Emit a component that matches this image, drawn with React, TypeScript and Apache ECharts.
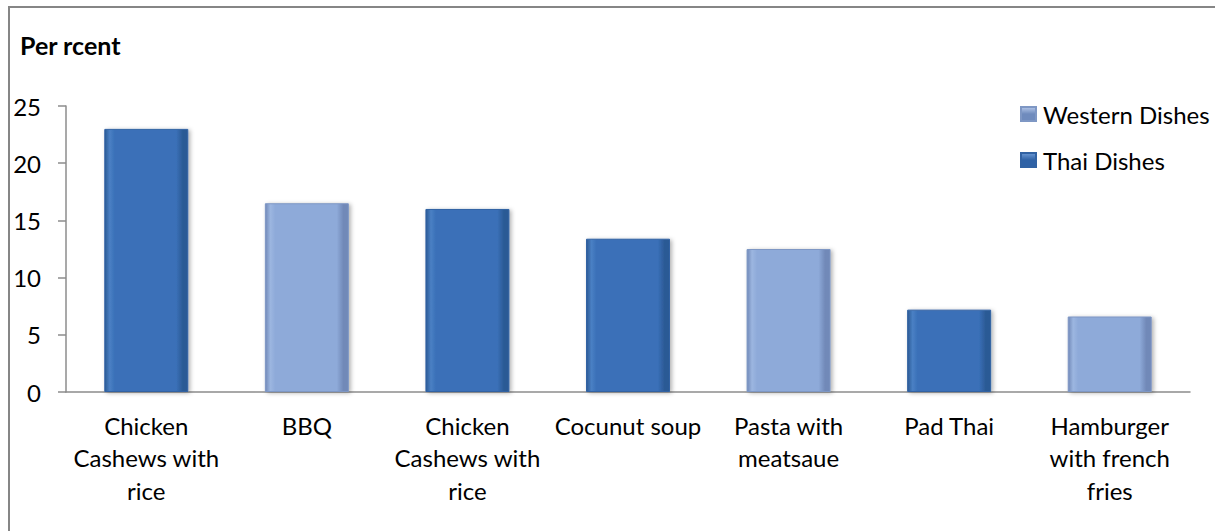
import React, { useEffect, useRef } from "react";
import * as echarts from "echarts";

const categories = [
  "Chicken Cashews with rice",
  "BBQ",
  "Chicken Cashews with rice",
  "Cocunut soup",
  "Pasta with meatsaue",
  "Pad Thai",
  "Hamburger with french fries",
];
const categoryLabels = [
  "Chicken\nCashews with\nrice",
  "BBQ",
  "Chicken\nCashews with\nrice",
  "Cocunut soup",
  "Pasta with\nmeatsaue",
  "Pad Thai",
  "Hamburger\nwith french\nfries",
];
const westernDishes: (number | string)[] = ["-", 16.5, "-", "-", 12.5, "-", 6.6];
const thaiDishes: (number | string)[] = [23, "-", 16, 13.4, "-", 7.2, "-"];
const yTicks = [0, 5, 10, 15, 20, 25];

const FONT = "Lato, 'Noto Sans', sans-serif";

function barGradient(edge: string, mid: string, light: string) {
  return new echarts.graphic.LinearGradient(0, 0, 1, 0, [
    { offset: 0, color: edge },
    { offset: 0.06, color: light },
    { offset: 0.12, color: mid },
    { offset: 0.86, color: mid },
    { offset: 0.94, color: edge },
    { offset: 1, color: edge },
  ]);
}

function legendGradient(dark: string, light: string) {
  return new echarts.graphic.LinearGradient(0, 0, 0, 1, [
    { offset: 0, color: light },
    { offset: 0.5, color: dark },
    { offset: 1, color: dark },
  ]);
}

export default function App() {
  const ref = useRef<HTMLDivElement>(null);
  useEffect(() => {
    if (!ref.current) return;
    const chart = echarts.init(ref.current, undefined, { renderer: "svg" });
    const westernColor = barGradient("#7189b8", "#8eaad9", "#9cb6e0");
    const thaiColor = barGradient("#2b5a95", "#3a70b8", "#4a80c4");
    chart.setOption({
      animation: false,
      backgroundColor: "#ffffff",
      textStyle: { fontFamily: FONT },
      graphic: [
        {
          type: "rect",
          shape: { x: 9, y: 7, width: 1230, height: 560 },
          style: { fill: "none", stroke: "#868686", lineWidth: 2 },
          silent: true,
        },
      ],
      title: {
        text: "Per rcent",
        left: 15,
        top: 27,
        textStyle: { fontFamily: FONT, fontWeight: "bold", fontSize: 25, color: "#000" },
      },
      legend: {
        orient: "vertical",
        left: 1015,
        top: 97,
        itemWidth: 15,
        itemHeight: 14,
        itemGap: 22,
        icon: "rect",
        textStyle: { fontFamily: FONT, fontSize: 24, color: "#000", padding: [0, 0, 0, 2] },
        data: [
          { name: "Western Dishes", itemStyle: { color: legendGradient("#6f8bbd", "#b5c8ea") } },
          { name: "Thai Dishes", itemStyle: { color: legendGradient("#2f62a6", "#6d9ad6") } },
        ],
      },
      grid: { left: 66, right: 25, top: 106, bottom: 139, containLabel: false },
      xAxis: {
        type: "category",
        data: categories,
        axisLine: { show: true, lineStyle: { color: "#8c8c8c", width: 1.5 } },
        axisTick: { show: false },
        axisLabel: {
          interval: 0,
          margin: 17,
          color: "#000",
          fontFamily: FONT,
          fontSize: 24,
          lineHeight: 32.5,
          formatter: (_v: string, i: number) => categoryLabels[i],
        },
      },
      yAxis: {
        type: "value",
        min: yTicks[0],
        max: yTicks[yTicks.length - 1],
        interval: 5,
        splitLine: { show: false },
        axisLine: { show: true, lineStyle: { color: "#8c8c8c", width: 1.5 } },
        axisTick: { show: true, length: 8, lineStyle: { color: "#8c8c8c", width: 1.5 } },
        axisLabel: { margin: 25, color: "#000", fontFamily: FONT, fontSize: 24 },
      },
      series: [
        {
          name: "Western Dishes",
          type: "bar",
          stack: "all",
          barWidth: 84,
          data: westernDishes,
          itemStyle: {
            color: westernColor,
            borderColor: "#7e97c4",
            borderWidth: 1,
            shadowColor: "rgba(0,0,0,0.3)",
            shadowBlur: 4,
            shadowOffsetX: 2,
            shadowOffsetY: 1,
          },
        },
        {
          name: "Thai Dishes",
          type: "bar",
          stack: "all",
          barWidth: 84,
          data: thaiDishes,
          itemStyle: {
            color: thaiColor,
            borderColor: "#3162a3",
            borderWidth: 1,
            shadowColor: "rgba(0,0,0,0.3)",
            shadowBlur: 4,
            shadowOffsetX: 2,
            shadowOffsetY: 1,
          },
        },
      ],
    });
    return () => chart.dispose();
  }, []);
  return (
    <div style={{ position: "fixed", left: 0, top: 0, width: 1215, height: 531, background: "#fff" }}>
      <div ref={ref} style={{ width: 1215, height: 531 }} />
    </div>
  );
}
